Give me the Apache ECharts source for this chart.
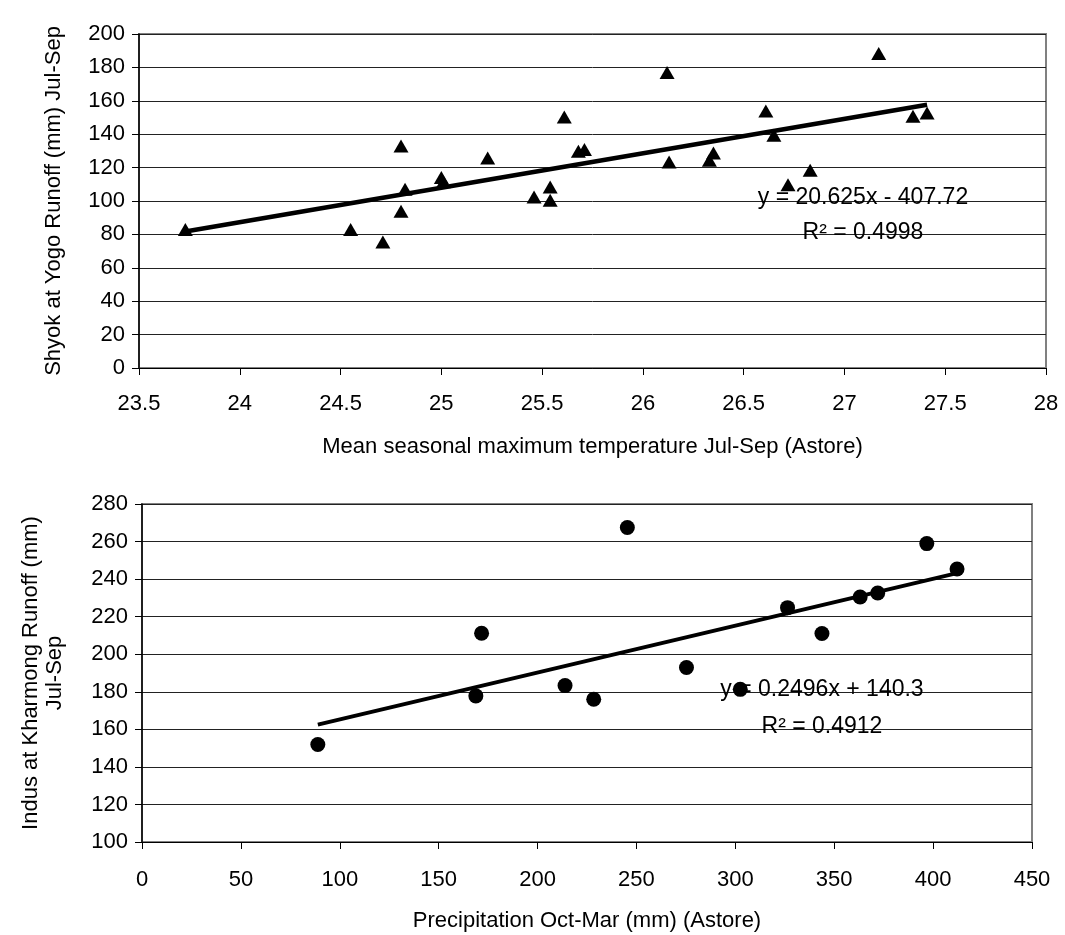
<!DOCTYPE html>
<html>
<head>
<meta charset="utf-8">
<script src="https://cdn.jsdelivr.net/npm/echarts@6/dist/echarts.min.js"></script>
<style>
html,body{margin:0;padding:0;background:#fff;}
#chart{width:1065px;height:935px;}
</style>
</head>
<body>
<div id="chart"></div>
<script>
// ---- Data ----
const tempX = [23.73, 24.55, 24.71, 24.80, 24.80, 24.82, 25.00, 25.01, 25.23, 25.46, 25.54, 25.54, 25.61, 25.68, 25.71, 26.12, 26.13, 26.33, 26.35, 26.61, 26.65, 26.72, 26.83, 27.17, 27.34, 27.41];
const shyokY = [83, 83, 75.4, 133, 93.8, 107, 114, 111.5, 125.7, 102.4, 108.4, 100.4, 150.3, 129.8, 130.8, 176.9, 123.4, 124.4, 128.7, 153.9, 139.3, 109.8, 118.4, 188.3, 150.7, 152.7];
const topSlope = 20.625, topIntercept = -407.72;
const topEqText = 'y = 20.625x - 407.72';
const topR2Text = 'R\u00B2 = 0.4998';

const precipX = [88.9, 168.8, 171.7, 213.9, 228.4, 245.4, 275.3, 302.5, 326.4, 343.8, 363.1, 372.0, 396.8, 412.1];
const indusY = [151.9, 177.8, 211.2, 183.3, 176.0, 267.5, 192.9, 181.3, 224.8, 211.0, 230.5, 232.6, 258.9, 245.4];
const botSlope = 0.2496, botIntercept = 140.3;
const botEqText = 'y = 0.2496x + 140.3';
const botR2Text = 'R\u00B2 = 0.4912';

const topXTitle = 'Mean seasonal maximum temperature Jul-Sep (Astore)';
const topYTitle = 'Shyok at Yogo Runoff (mm) Jul-Sep';
const botXTitle = 'Precipitation Oct-Mar (mm) (Astore)';
const botYTitle = 'Indus at Kharmong Runoff (mm)\nJul-Sep';

// ---- Build ----
const FONT = 'Liberation Sans, Arial, sans-serif';
function pairs(xs, ys){ return xs.map((x,i)=>[x, ys[i]]); }
function trend(xs, m, b){
  const lo = Math.min(...xs), hi = Math.max(...xs);
  return [[lo, m*lo+b],[hi, m*hi+b]];
}
function xAxisCfg(idx, min, max, interval, name, labelMargin, nameGap){
  return {
    type:'value', gridIndex: idx, min, max, interval,
    name, nameLocation:'middle', nameGap,
    nameTextStyle:{color:'#000', fontSize:22, fontFamily:FONT},
    axisLine:{show:true, lineStyle:{color:'#000', width:1}},
    axisTick:{show:true, inside:false, length:7, lineStyle:{color:'#000'}},
    axisLabel:{color:'#000', fontSize:22, fontFamily:FONT, margin:labelMargin},
    splitLine:{show:false}
  };
}
function yAxisCfg(idx, min, max, interval, name, nameGap){
  return {
    type:'value', gridIndex: idx, min, max, interval,
    name, nameLocation:'middle', nameGap,
    nameTextStyle:{color:'#000', fontSize:22, fontFamily:FONT, lineHeight:24},
    axisLine:{show:true, lineStyle:{color:'#000', width:1.5}},
    axisTick:{show:true, inside:false, length:7, lineStyle:{color:'#000'}},
    axisLabel:{color:'#000', fontSize:22, fontFamily:FONT, margin:14},
    splitLine:{show:true, lineStyle:{color:'#222', width:1}}
  };
}
function eqText(x, y, txt){
  return {type:'text', x:x, y:y, z:1,
    style:{text:txt, fill:'#000', font:'23px ' + FONT, align:'center', verticalAlign:'middle'}};
}

const chart = echarts.init(document.getElementById('chart'), null, {renderer:'canvas'});
chart.setOption({
  animation:false,
  backgroundColor:'#fff',
  grid:[
    {left:139, top:34, width:907, height:334, show:true, borderColor:'#808080', borderWidth:2, backgroundColor:'#fff'},
    {left:142, top:504, width:890, height:338, show:true, borderColor:'#808080', borderWidth:2, backgroundColor:'#fff'}
  ],
  xAxis:[
    xAxisCfg(0, 23.5, 28, 0.5, topXTitle, 25, 68),
    xAxisCfg(1, 0, 450, 50, botXTitle, 27, 68)
  ],
  yAxis:[
    yAxisCfg(0, 0, 200, 20, topYTitle, 73),
    yAxisCfg(1, 100, 280, 20, botYTitle, 75)
  ],
  graphic:[
    eqText(863, 198, topEqText),
    eqText(863, 233, topR2Text),
    eqText(822, 690, botEqText),
    eqText(822, 727, botR2Text)
  ],
  series:[
    {type:'line', xAxisIndex:0, yAxisIndex:0, data:trend(tempX, topSlope, topIntercept), symbol:'none', lineStyle:{color:'#000', width:4.5}, z:3},
    {type:'scatter', xAxisIndex:0, yAxisIndex:0, data:pairs(tempX, shyokY), symbol:'triangle', symbolSize:[15,13], itemStyle:{color:'#000', opacity:1}, z:4},
    {type:'line', xAxisIndex:1, yAxisIndex:1, data:trend(precipX, botSlope, botIntercept), symbol:'none', lineStyle:{color:'#000', width:4}, z:3},
    {type:'scatter', xAxisIndex:1, yAxisIndex:1, data:pairs(precipX, indusY), symbol:'circle', symbolSize:15, itemStyle:{color:'#000', opacity:1}, z:4}
  ]
});
</script>
</body>
</html>
